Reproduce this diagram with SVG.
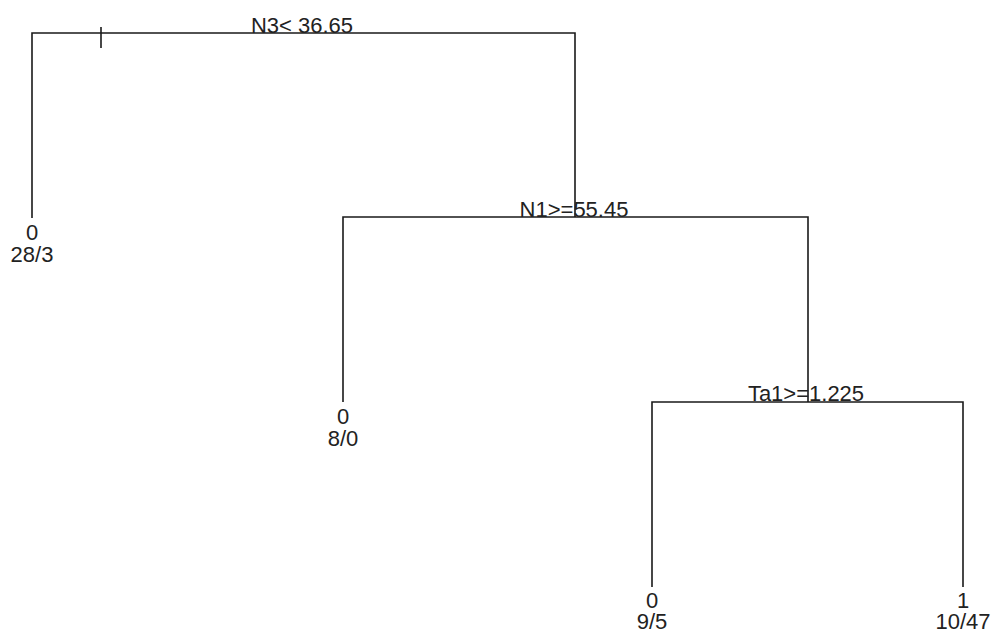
<svg xmlns="http://www.w3.org/2000/svg" width="991" height="630" viewBox="0 0 991 630">
<style>
.e{fill:none;stroke:#1a1a1a;stroke-width:1.6}
.t{font-family:"Liberation Sans",Arial,sans-serif;font-size:22px;fill:#222;text-anchor:middle}
</style>
<rect width="991" height="630" fill="#fff"/>
<g id="connectors">
<path class="e" d="M32,218 V33 H575 V217"/>
<path class="e" d="M101,27 V48"/>
<path class="e" d="M343,402 V217 H808 V402"/>
<path class="e" d="M652,587 V402 H963 V587"/>
</g>
<g id="n1"><text class="t" x="302" y="33">N3&lt; 36.65</text></g>
<g id="n2"><text class="t" x="32" y="240">0</text><text class="t" x="32" y="262">28/3</text></g>
<g id="n3"><text class="t" x="574" y="217">N1&gt;=55.45</text></g>
<g id="n4"><text class="t" x="343" y="424">0</text><text class="t" x="343" y="446">8/0</text></g>
<g id="n5"><text class="t" x="806" y="401">Ta1&gt;=1.225</text></g>
<g id="n6"><text class="t" x="652" y="608">0</text><text class="t" x="652" y="629">9/5</text></g>
<g id="n7"><text class="t" x="963" y="608">1</text><text class="t" x="963" y="629">10/47</text></g>
</svg>
